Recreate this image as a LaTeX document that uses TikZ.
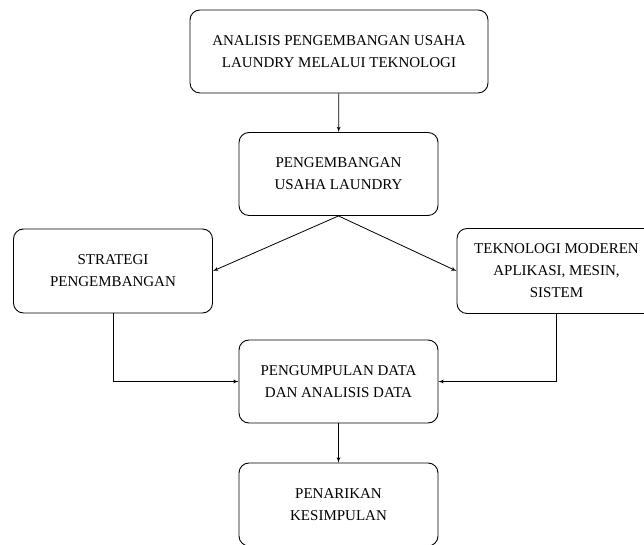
\documentclass[tikz,border=0pt]{standalone}
\usepackage{fontspec}
\setmainfont{Liberation Serif}
\usepackage{tikz}
\usetikzlibrary{arrows}
\usetikzlibrary{positioning}
\tikzset{>=latex'}
\tikzset{stepbox/.style = {draw, rounded corners = 10, line width = 0.9,
                           minimum width = 199, minimum height = 83,
                           align = center,
                           font = \fontsize{15}{22}\selectfont}}
\tikzset{link/.style = {->, line width = 0.8}}

\begin{document}
\begin{tikzpicture}[x=1pt, y=1pt]
    \useasboundingbox (0, 0) rectangle (644, 545);

    \node [stepbox, minimum width = 298] (judul) at (339, 493.5)
        {ANALISIS PENGEMBANGAN USAHA\\LAUNDRY MELALUI TEKNOLOGI};
    \node [stepbox] (usaha) at (338.5, 371) {PENGEMBANGAN\\USAHA LAUNDRY};
    \node [stepbox, minimum height = 84] (strategi) at (113, 274)
        {STRATEGI\\PENGEMBANGAN};
    \node [stepbox, minimum height = 85] (teknologi) at (556.5, 274)
        {TEKNOLOGI MODEREN\\APLIKASI, MESIN,\\SISTEM};
    \node [stepbox] (data) at (338.5, 163.5)
        {PENGUMPULAN DATA\\DAN ANALISIS DATA};
    \node [stepbox] (simpulan) at (338.5, 40.5) {PENARIKAN\\KESIMPULAN};

    \draw [link] (judul) -- (usaha);
    \draw [link] (usaha.south) -- (strategi.east);
    \draw [link] (usaha.south) -- (teknologi.west);
    \draw [link] (strategi.south) |- (data.west);
    \draw [link] (teknologi.south) |- (data.east);
    \draw [link] (data) -- (simpulan);
  \end{tikzpicture}
\end{document}
